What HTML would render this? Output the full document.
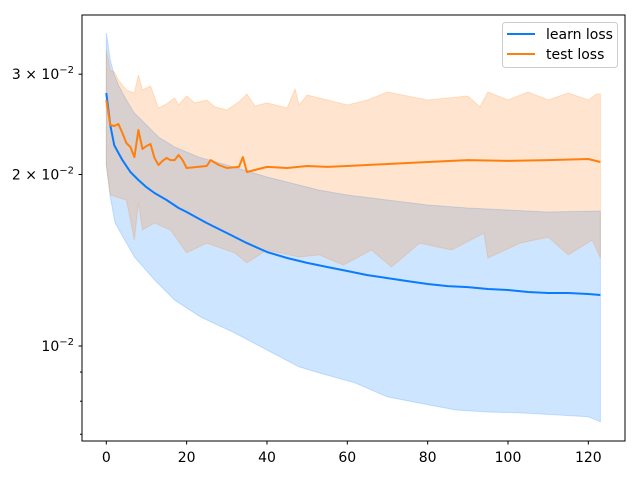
<!DOCTYPE html>
<html><head><meta charset="utf-8"><style>
html,body{margin:0;padding:0;background:#fff;}
svg{display:block;font-family:"DejaVu Sans","Liberation Sans",sans-serif;}
</style></head><body>
<svg id="chart" width="640" height="480" viewBox="0 0 640 480">
<rect width="640" height="480" fill="#fff"/>
<g id="bands"></g>
<g id="lines"></g>
<rect x="82" y="15" width="543" height="426" fill="none" stroke="#000" stroke-width="1"/>
<g id="xaxis"></g>
<g id="yaxis"></g>
<g>
<rect x="502.5" y="22.5" width="115" height="45" rx="3" fill="#fff" fill-opacity="0.8" stroke="#ccc"/>
<line x1="507" y1="34" x2="535" y2="34" stroke="#0a7bff" stroke-width="2"/>
<text x="546" y="39" font-size="14" fill="#000">learn loss</text>
<line x1="507" y1="54" x2="535" y2="54" stroke="#ff7f0e" stroke-width="2"/>
<text x="546" y="59" font-size="14" fill="#000">test loss</text>
</g>
</svg>
<script>
// ---- data ----
const learnMeanX = [0,1,2,4,6,8,10,12,15,18,20,25,30,35,40,45,50,55,60,65,70,75,80,85,90,95,100,105,110,115,120,123];
const learnMean = [0.0278,0.0244,0.0225,0.0212,0.0202,0.01956,0.0190,0.01856,0.01804,0.01747,0.01719,0.01644,0.01579,0.01516,0.01462,0.01427,0.01399,0.01376,0.01354,0.01332,0.01316,0.0130,0.01285,0.01274,0.01269,0.01259,0.01254,0.01244,0.01239,0.01239,0.01234,0.01229];
const learnUpperX = [0,1,2,3,5,7,10,13,17,23,30,40,53,60,70,80,90,100,110,123];
const learnUpper = [0.03543,0.03177,0.0299,0.02871,0.02703,0.02564,0.02443,0.02327,0.02235,0.02146,0.02078,0.0198,0.01878,0.01841,0.01804,0.01768,0.01747,0.01733,0.01719,0.01726];
const learnLowerX = [0,1,2.2,7,12,17,23.5,32,40,48,53,62,70,78,87,95,103,112,120,123];
const learnLower = [0.02078,0.01826,0.01644,0.01433,0.01306,0.01204,0.01124,0.01054,0.00984,0.00919,0.00897,0.00861,0.00814,0.00794,0.00772,0.00766,0.00763,0.00757,0.00751,0.00736];
const testMeanX = [0,1,2,3,4,5,6,7,8,9,10,11,12,13,14,15,16,17,18,19,20,25,26,28,30,33,34,35,40,45,50,55,60,70,80,90,100,110,120,123];
const testMean = [0.02703,0.02443,0.02433,0.02453,0.02365,0.02271,0.02235,0.02146,0.02394,0.02217,0.02244,0.02262,0.02138,0.02078,0.02113,0.02138,0.0212,0.0212,0.02164,0.0212,0.02053,0.0207,0.0212,0.02078,0.02053,0.02062,0.02146,0.0202,0.02062,0.02053,0.0207,0.02062,0.0207,0.02087,0.02104,0.0212,0.02113,0.0212,0.02129,0.02104];
const testUpperX = [0,1,2,3,5,7,8,9,11,13,15,17,18,20,22,25,27,30,33,35,37,40,45,47,48,50,55,60,65,70,80,90,93,95,100,105,110,115,120,122,123];
const testUpper = [0.03308,0.03051,0.03027,0.0293,0.02814,0.0278,0.0299,0.02814,0.0286,0.02617,0.0266,0.02725,0.02649,0.02747,0.02671,0.02703,0.02628,0.02596,0.02682,0.02769,0.02638,0.02671,0.02617,0.02826,0.02649,0.02758,0.02703,0.02649,0.02703,0.02792,0.02703,0.02747,0.02628,0.02792,0.02703,0.02792,0.02703,0.0278,0.02703,0.02769,0.02769];
const testLowerX = [0,1,5,7,8,9,12,16,20,25,32,35,40,48,53,59,66,71,78,86,94,95,103,110,115,121,123];
const testLower = [0.02078,0.01841,0.01804,0.01535,0.01782,0.01598,0.01644,0.01598,0.01457,0.01516,0.01457,0.01399,0.01474,0.01433,0.01445,0.01387,0.01474,0.01376,0.01516,0.01474,0.01579,0.01427,0.01516,0.01553,0.01445,0.01535,0.01427];
const xTicks = [0,20,40,60,80,100,120];
const yMajor = [0.03,0.02,0.01];
const yMinor = [0.009,0.008,0.007];

// ---- axes ----
const NS = "http://www.w3.org/2000/svg";
function sx(v){ return 106.3 + v*4.017; }
function sy(v){ return 346 - Math.log10(v/0.01)*569.7; }
function mk(tag, attrs, parent){
  const e = document.createElementNS(NS, tag);
  for (const k in attrs) e.setAttribute(k, attrs[k]);
  parent.appendChild(e);
  return e;
}
function pts(xs, ys){ return xs.map((x,i)=>sx(x).toFixed(1)+","+sy(ys[i]).toFixed(1)); }

const bands = document.getElementById('bands');
const lb = mk('polygon', {points: pts(learnUpperX, learnUpper).concat(pts(learnLowerX, learnLower).reverse()).join(' '), fill:'#0a7bff', 'fill-opacity':'0.2', stroke:'#0a7bff', 'stroke-opacity':'0.2'}, bands);


const tb = mk('polygon', {points: pts(testUpperX, testUpper).concat(pts(testLowerX, testLower).reverse()).join(' '), fill:'#ff7f0e', 'fill-opacity':'0.2', stroke:'#ff7f0e', 'stroke-opacity':'0.2'}, bands);



const lines = document.getElementById('lines');
const ll = mk('polyline', {points: pts(learnMeanX, learnMean).join(' '), fill:'none', stroke:'#0a7bff', 'stroke-width':'2', 'stroke-linejoin':'round'}, lines);


const tl = mk('polyline', {points: pts(testMeanX, testMean).join(' '), fill:'none', stroke:'#ff7f0e', 'stroke-width':'2', 'stroke-linejoin':'round'}, lines);



const xa = document.getElementById('xaxis');
xTicks.forEach(t=>{
  const l = mk('line', {x1:sx(t), x2:sx(t), y1:441, y2:444.5, stroke:'#000'}, xa);
  
  
  const tx = mk('text', {x:sx(t), y:462, 'font-size':'14', 'text-anchor':'middle'}, xa);
  tx.textContent = String(t);
  
  
});

const ya = document.getElementById('yaxis');
yMajor.forEach(v=>{
  const y = sy(v);
  const l = mk('line', {x1:78.5, x2:82, y1:y, y2:y, stroke:'#000'}, ya);
  
  
  const tx = mk('text', {x:74, y:y+5, 'font-size':'14', 'text-anchor':'end'}, ya);
  const m = Math.round(v*100);
  const pre = m === 1 ? '10' : (m + ' \u00d7 10');
  tx.appendChild(document.createTextNode(pre));
  const sup = mk('tspan', {'font-size':'10', dy:'-6'}, tx);
  sup.textContent = '\u22122';
  
  
});
yMinor.forEach(v=>{
  const y = sy(v);
  const l = mk('line', {x1:80, x2:82, y1:y, y2:y, stroke:'#000'}, ya);
  
  
});
</script>
</body></html>
